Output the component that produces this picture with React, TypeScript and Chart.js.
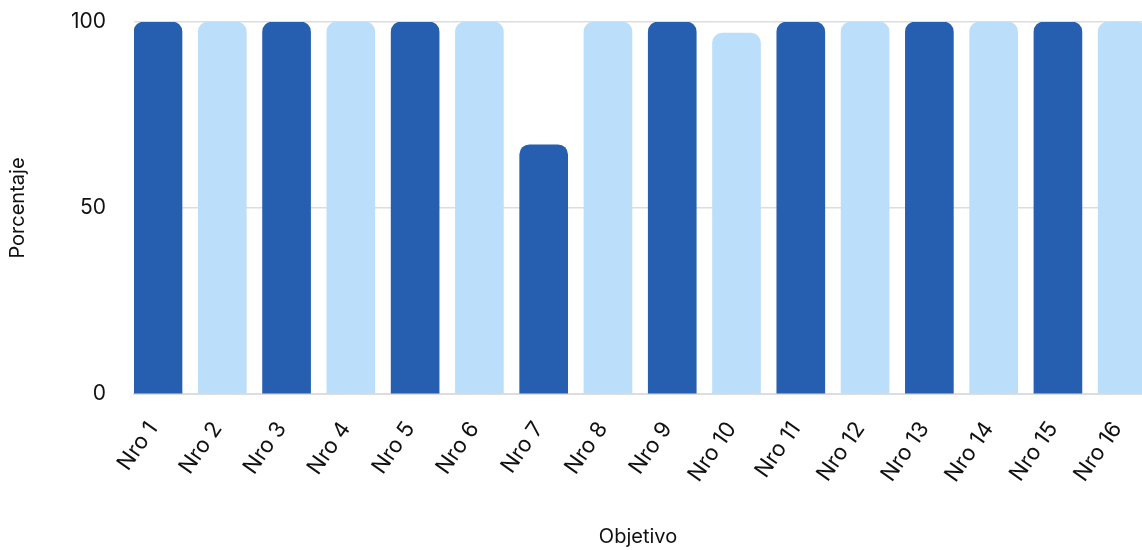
import React, { useEffect, useRef } from "react";
import { Chart, registerables } from "chart.js";

Chart.register(...registerables);

// Objetivos evaluados y su porcentaje de cumplimiento
const categories = [
  "Nro 1", "Nro 2", "Nro 3", "Nro 4", "Nro 5", "Nro 6", "Nro 7", "Nro 8",
  "Nro 9", "Nro 10", "Nro 11", "Nro 12", "Nro 13", "Nro 14", "Nro 15", "Nro 16",
];
const porcentajes = [100, 100, 100, 100, 100, 100, 67, 100, 100, 97, 100, 100, 100, 100, 100, 100];
const yTicks = [0, 50, 100];

const DARK = "#265FAF";
const LIGHT = "#BBDEFB";
const FONT = "Inter, 'Noto Sans', sans-serif";

export default function App() {
  const ref = useRef<HTMLCanvasElement | null>(null);

  useEffect(() => {
    document.body.style.margin = "0";
    const canvas = ref.current;
    if (!canvas) return;

    const chart = new Chart(canvas, {
      type: "bar",
      data: {
        datasets: [
          {
            label: "Porcentaje",
            data: porcentajes.map((v, i) => ({ x: i, y: v })),
            backgroundColor: porcentajes.map((_, i) => (i % 2 === 0 ? DARK : LIGHT)),
            borderWidth: 0,
            borderRadius: 10,
            borderSkipped: "start",
            barThickness: 48,
          },
        ],
      },
      options: {
        animation: false,
        responsive: false,
        maintainAspectRatio: false,
        layout: { padding: { top: 22, right: 0, bottom: 0, left: 0 } },
        plugins: {
          legend: { display: false },
          tooltip: { enabled: false },
        },
        scales: {
          x: {
            type: "linear",
            offset: false,
            min: -0.3734,
            max: 15.308,
            afterBuildTicks: (axis: any) => {
              axis.ticks = categories.map((_, i) => ({ value: i }));
            },
            afterFit: (scale: any) => {
              scale.height = 156;
              scale.paddingLeft = 0;
              scale.paddingRight = 0;
            },
            grid: { display: false, drawTicks: false, offset: false },
            border: { display: true, color: "#dddddd", width: 2 },
            ticks: {
              autoSkip: false,
              minRotation: 55,
              maxRotation: 55,
              padding: 23,
              labelOffset: -5,
              color: "#111111",
              font: { family: FONT, size: 22 },
              callback: (v: any) => categories[Number(v)] ?? "",
            },
            title: {
              display: true,
              text: "Objetivo",
              color: "#111111",
              font: { family: FONT, size: 20 },
              padding: { top: 4, bottom: 1 },
            },
          },
          y: {
            min: 0,
            max: 100,
            afterBuildTicks: (axis: any) => {
              axis.ticks = yTicks.map((v) => ({ value: v }));
            },
            afterFit: (scale: any) => {
              scale.width = 134;
              scale.paddingTop = 0;
              scale.paddingBottom = 0;
            },
            grid: { color: "#dddddd", lineWidth: 1.5, drawTicks: false },
            border: { display: false },
            ticks: {
              padding: 28,
              color: "#111111",
              font: { family: FONT, size: 21 },
            },
            title: {
              display: true,
              text: "Porcentaje",
              color: "#111111",
              font: { family: FONT, size: 20 },
              padding: { top: 6, bottom: 0 },
            },
          },
        },
      },
    });

    return () => chart.destroy();
  }, []);

  return <canvas ref={ref} width={1142} height={550} style={{ display: "block" }} />;
}
